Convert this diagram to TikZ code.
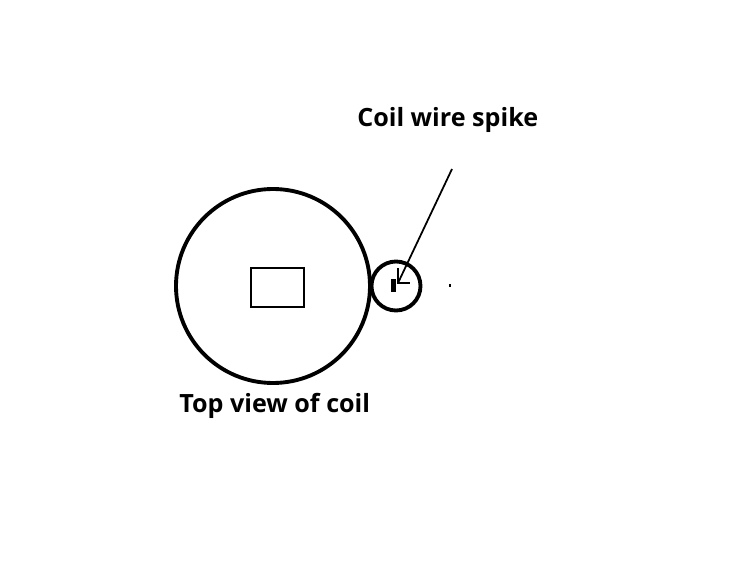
\documentclass[tikz,border=0pt]{standalone}
\usepackage{fontspec}
\setmainfont{Open Sans}
\tikzset{
  penline/.style={line width=2.2pt},
  caption/.style={font=\bfseries\fontsize{14.3}{17}\selectfont, inner sep=0pt, anchor=base west}
}
\begin{document}
\begin{tikzpicture}[x=0.02cm, y=-0.02cm]
\useasboundingbox (0,0) rectangle (731,578);
% coil seen from above, with the wire spike at its side
\node[penline, draw, circle, minimum size=194*0.02cm, inner sep=0pt] (coil) at (273,286) {};
\node[penline, draw, circle, minimum size=49*0.02cm, inner sep=0pt] (spike) at (396,286) {};
\node[draw, line width=1.4pt, minimum width=53*0.02cm, minimum height=39*0.02cm, inner sep=0pt] (core) at (277.5,287.5) {};
\draw[line width=2.6pt] (393.5,279) -- (393.5,292);
\fill (449,284) rectangle (451,287);
\node[caption] (spikelabel) at (357,126) {Coil wire spike};
\node[caption] (coillabel) at (179,412) {Top view of coil};
\coordinate (tail) at (452,169);
\coordinate (tip) at (398,283);
% hand drawn arrow head: one arm up, one arm right
\draw[line width=1pt] (tail) -- (tip);
\draw[line width=1.3pt] (398,268) -- (tip) -- (410,283);
\end{tikzpicture}
\end{document}
